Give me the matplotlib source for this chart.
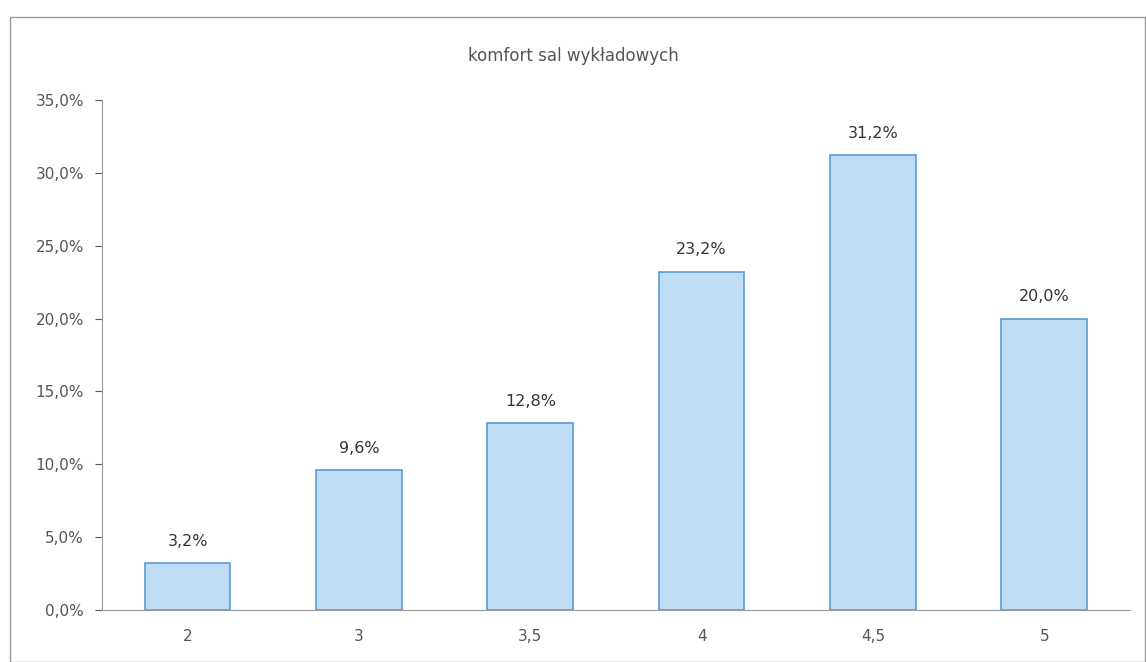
import matplotlib.pyplot as plt
from matplotlib.patches import Rectangle
from matplotlib.ticker import FuncFormatter

categories = ['2', '3', '3,5', '4', '4,5', '5']
values = [3.2, 9.6, 12.8, 23.2, 31.2, 20.0]
yticks = [0, 5, 10, 15, 20, 25, 30, 35]

def pl(v):
    return ('%.1f%%' % v).replace('.', ',')

fig = plt.figure(figsize=(11.46, 6.62), dpi=100)
fig.patches.append(Rectangle((0.009, 0.0), 0.99, 0.975, transform=fig.transFigure,
                             fill=False, edgecolor='#9a9a9a', linewidth=1))
ax = fig.add_axes([0.089, 0.0785, 0.897, 0.7705])

x = range(len(categories))
bars = ax.bar(x, values, width=0.5, color='#BFDDF5', edgecolor='#5B9BD5', linewidth=1.2)
for b, v in zip(bars, values):
    ax.text(b.get_x() + b.get_width() / 2, v + 1.0, pl(v), ha='center', va='bottom',
            fontsize=11.5, color='#333333')

ax.set_xlim(-0.5, 5.5)
ax.set_ylim(0, 35)
ax.set_yticks(yticks)
ax.yaxis.set_major_formatter(FuncFormatter(lambda v, p: pl(v)))
ax.set_xticks(list(x))
ax.set_xticklabels(categories)
ax.tick_params(axis='y', colors='#555555', labelsize=11, length=5, width=0.8, pad=8)
ax.tick_params(axis='x', colors='#555555', labelsize=11, length=0, pad=14)
for s in ['top', 'right']:
    ax.spines[s].set_visible(False)
ax.spines['left'].set_color('#999999')
ax.spines['bottom'].set_color('#999999')
fig.text(0.5, 0.915, 'komfort sal wykładowych', ha='center', va='center',
         fontsize=12, color='#555555')

fig.savefig('out.png', dpi=100)
